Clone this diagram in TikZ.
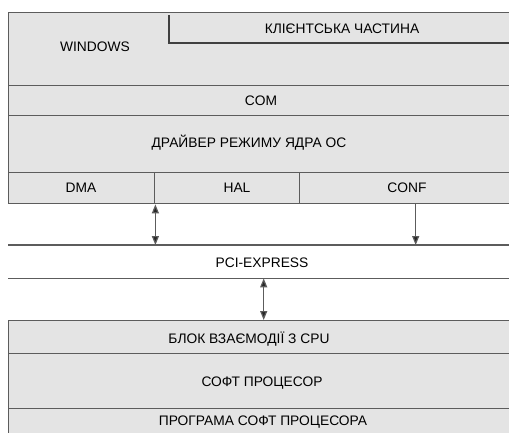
\documentclass[tikz,border=0pt]{standalone}
\usepackage{fontspec}
\setmainfont{Liberation Sans}
\usetikzlibrary{arrows.meta}

\definecolor{layerfill}{HTML}{E4E4E4}
\definecolor{layerline}{HTML}{5C5C5C}

\tikzset{
	layer/.style={draw=layerline, fill=layerfill, line width=1.4pt,
		inner sep=0pt, anchor=north west, minimum width=510pt},
	txt/.style={font=\fontsize{13.8}{16}\selectfont, inner sep=0pt},
	link/.style={draw=layerline, line width=1.2pt,
		>={Triangle[length=9pt,width=7pt,fill=black!85]}},
}

\begin{document}
\begin{tikzpicture}[x=1pt,y=-1pt]
	\clip (0,0) rectangle (509,432);
	\fill[white] (0,0) rectangle (509,432);
	%
	\node[layer, minimum height=73pt] (win) at (8,12) {};
	\node[layer, minimum height=30pt] (com) at (8,85) {};
	\node[layer, minimum height=57pt] (drv) at (8,115) {};
	\node[layer, minimum height=31pt, minimum width=146pt] (dma) at (8,172) {};
	\node[layer, minimum height=31pt, minimum width=145pt] (hal) at (154,172) {};
	\node[layer, minimum height=31pt, minimum width=232pt] (conf) at (299,172) {};
	\node[layer, draw=none, fill=none, minimum height=32pt] (pci) at (8,245) {};
	\node[layer, minimum height=33pt] (cpu) at (8,320) {};
	\node[layer, minimum height=55pt] (soft) at (8,353) {};
	\node[layer, minimum height=40pt] (prog) at (8,408) {};
	%
	\draw[layerline, line width=1.4pt] (pci.north west) -- (pci.north east);
	\draw[layerline, line width=1.4pt] (pci.south west) -- (pci.south east);
	\draw[black!75, line width=1.5pt] (169,15) |- (520,43);
	%
	\node[txt] (windows) at (95,47) {WINDOWS};
	\node[txt] (client) at (342,29) {КЛІЄНТСЬКА ЧАСТИНА};
	\node[txt] (comt) at (261,101) {COM};
	\node[txt] (drvt) at (249,143) {ДРАЙВЕР РЕЖИМУ ЯДРА ОС};
	\node[txt] (dmat) at (81,188) {DMA};
	\node[txt] (halt) at (237,188) {HAL};
	\node[txt] (conft) at (407,188) {CONF};
	\node[txt] (pcit) at (262,263) {PCI-EXPRESS};
	\node[txt] (cput) at (249,339) {БЛОК ВЗАЄМОДІЇ З CPU};
	\node[txt] (softt) at (262,383) {СОФТ ПРОЦЕСОР};
	\node[txt] (progt) at (263,422) {ПРОГРАМА СОФТ ПРОЦЕСОРА};
	%
	\path[link]
	(dma.south east) edge[<->] (dma.south east |- pci.north)
	(conf.south) edge[->] (conf.south |- pci.north)
	(pci.south) edge[<->] (cpu.north);
\end{tikzpicture}
\end{document}
